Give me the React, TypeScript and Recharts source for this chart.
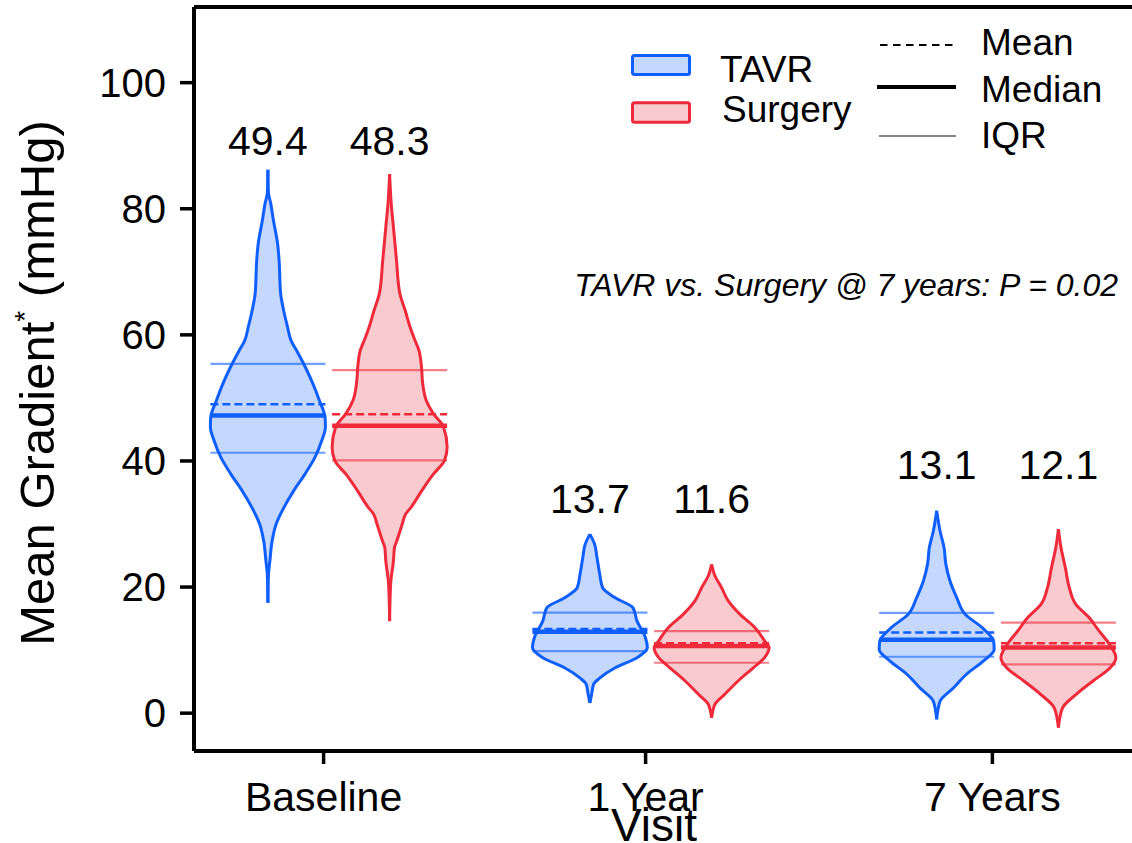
import React from "react";
import { ComposedChart, Area, XAxis, YAxis, ReferenceLine, ReferenceDot } from "recharts";

const FONT = "'Liberation Sans', Arial, Helvetica, sans-serif";

const visits = ["Baseline", "1 Year", "7 Years"];
const visitPos = [0, 1, 2.077];
const yTicks = [0, 20, 40, 60, 80, 100];

// violin outlines: [gradient mmHg, width as % of widest point]
const tavrBaseline = [
  [17.5, 0], [22, 1], [24.2, 3.5], [27.3, 7.3], [30, 14.4], [32.6, 27.7], [35.3, 45], [38, 65],
  [40.6, 82], [43.2, 93.5], [45.4, 100], [46.9, 99.5], [49.6, 89.5], [52.3, 78], [54.9, 65],
  [57.5, 50], [59.1, 40.3], [61.3, 34], [63.9, 27.3], [66.6, 22.1], [71.9, 19.4], [74.5, 16.8],
  [78.2, 9.5], [80.9, 4.8], [82.5, 1], [86.2, 0],
];
const tavr1Year = [
  [1.6, 0], [3, 3], [4.6, 6.5], [5.6, 17.5], [7.2, 44], [8.8, 82], [10.4, 100], [12, 96.5],
  [14.6, 82], [16.7, 75], [18.3, 44], [19.9, 22], [22.1, 17], [24.7, 12.3], [26.8, 8.2], [28.4, 0],
];
const tavr7Years = [
  [-1, 0], [1.9, 5.8], [4, 29], [6.2, 52], [8.3, 81.5], [10.1, 100], [11.4, 99], [13.6, 78.5],
  [15.7, 49.4], [18.3, 35], [21, 23], [23.6, 16], [26.3, 12.7], [28.9, 5.8], [32.1, 0],
];
const surgBaseline = [
  [14.6, 0], [20.5, 1.8], [24.2, 6.7], [26.3, 8.5], [27.3, 12.4], [30, 22], [31.6, 28], [32.6, 36.8],
  [35.3, 56], [37.9, 76], [40.1, 95.6], [42.2, 100], [45.4, 93.8], [47.5, 76], [49.6, 63.7],
  [52.3, 57.5], [54.9, 55.4], [57.6, 50.8], [59.1, 44.2], [61.3, 35.4], [63.9, 27], [66.6, 17.7],
  [71.9, 11.9], [77.2, 6.5], [80.9, 2.7], [85.5, 0],
];
const surg1Year = [
  [-0.75, 0], [1.4, 5.7], [3, 23], [5.1, 46], [7.2, 72.5], [8.8, 92], [10.4, 100], [11.4, 92.7],
  [13.6, 75], [15.7, 49], [17.8, 29], [19.9, 17.4], [21.8, 5.7], [23.6, 0],
];
const surg7Years = [
  [-2.3, 0], [0.8, 7], [3, 31], [5.1, 60], [7.2, 90], [8.8, 100], [10.9, 89], [13, 71],
  [15.2, 53], [17.3, 30], [19.9, 19], [23.1, 12], [26.3, 4.4], [29.2, 0],
];

const tavrQ1 = [41.3, 9.85, 8.95];
const tavrMedian = [47.2, 12.9, 11.65];
const tavrQ3 = [55.4, 15.95, 15.9];
const tavrMean = [49.0, 13.35, 12.8];
const tavrMeanLabel = [49.4, 13.7, 13.1];

const surgQ1 = [40.1, 8.0, 7.75];
const surgMedian = [45.6, 10.65, 10.4];
const surgQ3 = [54.4, 13.0, 14.35];
const surgMean = [47.4, 11.1, 11.1];
const surgMeanLabel = [48.3, 11.6, 12.1];

const labelLevel = [90.9, 34.1, 39.4];

const HALF = 0.1786;

const arms = [
  {
    name: "TAVR", stroke: "#0f5fff", fill: "#c4d7fd", offset: -0.173,
    profiles: [tavrBaseline, tavr1Year, tavr7Years],
    q1: tavrQ1, median: tavrMedian, q3: tavrQ3, mean: tavrMean, meanLabel: tavrMeanLabel,
  },
  {
    name: "Surgery", stroke: "#ee2a3b", fill: "#f9cace", offset: 0.205,
    profiles: [surgBaseline, surg1Year, surg7Years],
    q1: surgQ1, median: surgMedian, q3: surgQ3, mean: surgMean, meanLabel: surgMeanLabel,
  },
];

function seg(c: number, v: number) {
  return [{ x: c - HALF, y: v }, { x: c + HALF, y: v }];
}

export default function App() {
  return (
    <div style={{ position: "absolute", left: 0, top: 0, width: 1132, height: 843, overflow: "hidden", background: "#fff" }}>
      <ComposedChart width={1140} height={843} layout="vertical" margin={{ top: 7, right: 0, bottom: 0, left: 0 }}>
        <XAxis
          type="number"
          domain={[-0.4025, 2.5354]}
          allowDataOverflow
          ticks={visitPos}
          interval={0}
          tickFormatter={(v: number) => visits[visitPos.indexOf(v)] ?? ""}
          height={92}
          tickSize={13}
          tickMargin={18}
          tick={{ fontSize: 41, fill: "#000", fontFamily: FONT }}
          tickLine={{ stroke: "#000", strokeWidth: 3.5 }}
          axisLine={{ stroke: "#000", strokeWidth: 4 }}
        />
        <YAxis
          type="number"
          dataKey="y"
          domain={[-6, 112]}
          reversed
          allowDataOverflow
          ticks={yTicks}
          interval={0}
          width={194}
          tickSize={14}
          tickMargin={14}
          tick={{ fontSize: 40, fill: "#000", fontFamily: FONT }}
          tickLine={{ stroke: "#000", strokeWidth: 3.5 }}
          axisLine={{ stroke: "#000", strokeWidth: 4 }}
        />
        <ReferenceLine y={112} stroke="#000" strokeWidth={4} />
        {arms.map((arm) =>
          arm.profiles.map((prof, i) => {
            const c = visitPos[i] + arm.offset;
            const data = prof.map(([y, d]) => ({ y, span: [c - (HALF * d) / 100, c + (HALF * d) / 100] }));
            return (
              <Area
                key={`${arm.name}-${i}`}
                data={data}
                dataKey="span"
                type="monotone"
                stroke={arm.stroke}
                strokeWidth={3}
                fill={arm.fill}
                fillOpacity={1}
                isAnimationActive={false}
                dot={false}
                activeDot={false}
              />
            );
          })
        )}
        {arms.map((arm) =>
          visitPos.map((p, i) => {
            const c = p + arm.offset;
            return (
              <React.Fragment key={`stats-${arm.name}-${i}`}>
                <ReferenceLine segment={seg(c, arm.q3[i])} stroke={arm.stroke} strokeOpacity={0.6} strokeWidth={2.2} />
                <ReferenceLine segment={seg(c, arm.q1[i])} stroke={arm.stroke} strokeOpacity={0.6} strokeWidth={2.2} />
                <ReferenceLine segment={seg(c, arm.mean[i])} stroke={arm.stroke} strokeWidth={2.5} strokeDasharray="8 4" />
                <ReferenceLine segment={seg(c, arm.median[i])} stroke={arm.stroke} strokeWidth={4.5} />
                <ReferenceDot
                  x={c}
                  y={labelLevel[i]}
                  r={0}
                  stroke="none"
                  fill="none"
                  label={{ value: arm.meanLabel[i].toFixed(1), position: "center", fontSize: 41, fill: "#000", fontFamily: FONT }}
                />
              </React.Fragment>
            );
          })
        )}
      </ComposedChart>
      <svg width={1132} height={843} style={{ position: "absolute", left: 0, top: 0, pointerEvents: "none" }} fontFamily={FONT}>
        <text transform="translate(54, 383) rotate(-90)" textAnchor="middle" fontSize={49} fill="#000">
          Mean Gradient<tspan dy={-20} fontSize={28}>*</tspan>
          <tspan dy={20}> (mmHg)</tspan>
        </text>
        <text x={654} y={841} textAnchor="middle" fontSize={46} fill="#000">Visit</text>
        <rect x={632.5} y={55.5} width={57} height={19} rx={2} fill={arms[0].fill} stroke={arms[0].stroke} strokeWidth={3} />
        <rect x={632.5} y={102.8} width={57} height={19.5} rx={2} fill={arms[1].fill} stroke={arms[1].stroke} strokeWidth={3} />
        <text x={720} y={82} fontSize={37} fill="#000">TAVR</text>
        <text x={722} y={122} fontSize={37} fill="#000">Surgery</text>
        <line x1={880} x2={956} y1={45} y2={45} stroke="#000" strokeWidth={2} strokeDasharray="7.5 5.5" />
        <line x1={877} x2={956} y1={87} y2={87} stroke="#000" strokeWidth={4} />
        <line x1={879} x2={956} y1={136} y2={136} stroke="#888" strokeWidth={2} />
        <text x={981} y={55} fontSize={37} fill="#000">Mean</text>
        <text x={981} y={101.5} fontSize={37} fill="#000">Median</text>
        <text x={981} y={148} fontSize={37} fill="#000">IQR</text>
        <text x={1118} y={296} textAnchor="end" fontSize={32} fontStyle="italic" fill="#000">
          TAVR vs. Surgery @ 7 years: P = 0.02
        </text>
      </svg>
    </div>
  );
}
